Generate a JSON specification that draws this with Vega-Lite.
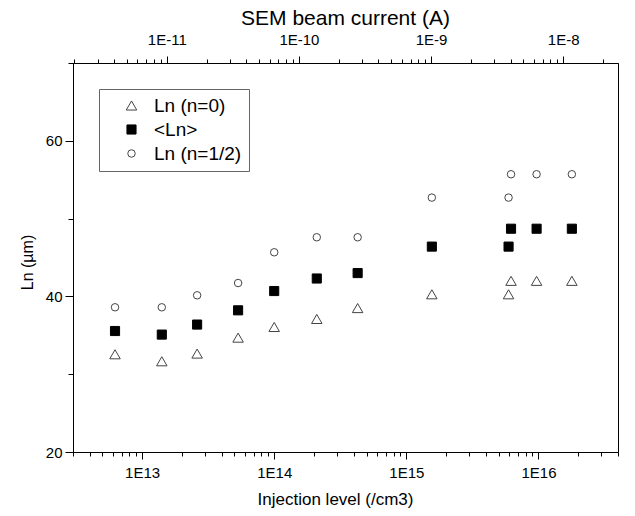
{
  "$schema": "https://vega.github.io/schema/vega-lite/v6.json",
  "width": 545,
  "height": 389,
  "autosize": {"type": "none"},
  "padding": {"left": 73, "top": 63, "right": 17, "bottom": 64},
  "background": "white",
  "config": {
    "font": "Liberation Sans",
    "view": {"stroke": "black", "strokeWidth": 1},
    "axis": {
      "grid": false,
      "domainColor": "black",
      "tickColor": "black",
      "labelColor": "black",
      "titleColor": "black",
      "labelFont": "Liberation Sans",
      "titleFont": "Liberation Sans",
      "titleFontWeight": "normal",
      "labelOverlap": false,
      "labelFlush": false,
      "labelBound": false
    },
    "legend": {
      "title": null,
      "orient": "none",
      "legendX": 26,
      "legendY": 26,
      "strokeColor": "#666666",
      "fillColor": "white",
      "padding": 7,
      "symbolOffset": 16,
      "labelOffset": 13,
      "labelFontSize": 19,
      "labelFont": "Liberation Sans",
      "labelColor": "black",
      "rowPadding": 4,
      "symbolStrokeWidth": 1
    }
  },
  "layer": [
    {
      "data": {
        "values": [
          {"inj": 6.24e12, "ln": 32.56, "series": "Ln (n=0)"},
          {"inj": 1.41e13, "ln": 31.66, "series": "Ln (n=0)"},
          {"inj": 2.61e13, "ln": 32.65, "series": "Ln (n=0)"},
          {"inj": 5.33e13, "ln": 34.7, "series": "Ln (n=0)"},
          {"inj": 1.0e14, "ln": 36.07, "series": "Ln (n=0)"},
          {"inj": 2.1e14, "ln": 37.1, "series": "Ln (n=0)"},
          {"inj": 4.28e14, "ln": 38.5, "series": "Ln (n=0)"},
          {"inj": 1.56e15, "ln": 40.27, "series": "Ln (n=0)"},
          {"inj": 5.94e15, "ln": 40.27, "series": "Ln (n=0)"},
          {"inj": 6.2e15, "ln": 42.0, "series": "Ln (n=0)"},
          {"inj": 9.68e15, "ln": 42.0, "series": "Ln (n=0)"},
          {"inj": 1.79e16, "ln": 42.0, "series": "Ln (n=0)"},
          {"inj": 6.24e12, "ln": 35.55, "series": "<Ln>"},
          {"inj": 1.41e13, "ln": 35.09, "series": "<Ln>"},
          {"inj": 2.61e13, "ln": 36.38, "series": "<Ln>"},
          {"inj": 5.33e13, "ln": 38.21, "series": "<Ln>"},
          {"inj": 1.0e14, "ln": 40.69, "series": "<Ln>"},
          {"inj": 2.1e14, "ln": 42.3, "series": "<Ln>"},
          {"inj": 4.28e14, "ln": 43.0, "series": "<Ln>"},
          {"inj": 1.56e15, "ln": 46.4, "series": "<Ln>"},
          {"inj": 5.94e15, "ln": 46.4, "series": "<Ln>"},
          {"inj": 6.2e15, "ln": 48.7, "series": "<Ln>"},
          {"inj": 9.68e15, "ln": 48.7, "series": "<Ln>"},
          {"inj": 1.79e16, "ln": 48.7, "series": "<Ln>"},
          {"inj": 6.24e12, "ln": 38.6, "series": "Ln (n=1/2)"},
          {"inj": 1.41e13, "ln": 38.6, "series": "Ln (n=1/2)"},
          {"inj": 2.61e13, "ln": 40.14, "series": "Ln (n=1/2)"},
          {"inj": 5.33e13, "ln": 41.72, "series": "Ln (n=1/2)"},
          {"inj": 1.0e14, "ln": 45.67, "series": "Ln (n=1/2)"},
          {"inj": 2.1e14, "ln": 47.6, "series": "Ln (n=1/2)"},
          {"inj": 4.28e14, "ln": 47.6, "series": "Ln (n=1/2)"},
          {"inj": 1.56e15, "ln": 52.7, "series": "Ln (n=1/2)"},
          {"inj": 5.94e15, "ln": 52.7, "series": "Ln (n=1/2)"},
          {"inj": 6.2e15, "ln": 55.7, "series": "Ln (n=1/2)"},
          {"inj": 9.68e15, "ln": 55.7, "series": "Ln (n=1/2)"},
          {"inj": 1.79e16, "ln": 55.7, "series": "Ln (n=1/2)"}
        ]
      },
      "mark": {"type": "point", "filled": true, "opacity": 1, "strokeWidth": 1},
      "encoding": {
        "x": {
          "field": "inj",
          "type": "quantitative",
          "scale": {"type": "log", "domain": [3e12, 4e16], "nice": false},
          "axis": {
            "orient": "bottom",
            "values": [3e12, 4e12, 5e12, 6e12, 7e12, 8e12, 9e12, 1e13, 2e13, 3e13, 4e13, 5e13, 6e13, 7e13, 8e13, 9e13, 1e14, 2e14, 3e14, 4e14, 5e14, 6e14, 7e14, 8e14, 9e14, 1e15, 2e15, 3e15, 4e15, 5e15, 6e15, 7e15, 8e15, 9e15, 1e16, 2e16, 3e16, 4e16],
            "labelExpr": "abs(log(datum.value)/LN10 - round(log(datum.value)/LN10)) < 0.0001 ? '1E' + round(log(datum.value)/LN10) : ''",
            "tickSize": {"condition": {"test": "abs(log(datum.value)/LN10 - round(log(datum.value)/LN10)) < 0.0001", "value": 7}, "value": 4},
            "labelFontSize": 15,
            "labelBaseline": "alphabetic",
            "labelPadding": 18,
            "title": "Injection level (/cm3)",
            "titleFontSize": 17,
            "titleX": 262,
            "titleY": 52,
            "titleAlign": "center",
            "titleBaseline": "alphabetic"
          }
        },
        "y": {
          "field": "ln",
          "type": "quantitative",
          "scale": {"domain": [20, 70], "nice": false, "zero": false},
          "axis": {
            "values": [20, 30, 40, 50, 60, 70],
            "labelExpr": "datum.value % 20 == 0 ? datum.label : ''",
            "tickSize": {"condition": {"test": "datum.value % 20 == 0", "value": 8}, "value": 5},
            "labelFontSize": 15,
            "labelPadding": 3,
            "title": "Ln (µm)",
            "titleFontSize": 16,
            "titleAngle": -90,
            "titleX": -41,
            "titleY": 199,
            "titleAlign": "center",
            "titleBaseline": "alphabetic"
          }
        },
        "shape": {
          "field": "series",
          "type": "nominal",
          "scale": {"domain": ["Ln (n=0)", "<Ln>", "Ln (n=1/2)"], "range": ["triangle-up", "square", "circle"]}
        },
        "size": {
          "field": "series",
          "type": "nominal",
          "scale": {"domain": ["Ln (n=0)", "<Ln>", "Ln (n=1/2)"], "range": [110, 56, 66]}
        },
        "fill": {
          "field": "series",
          "type": "nominal",
          "scale": {"domain": ["Ln (n=0)", "<Ln>", "Ln (n=1/2)"], "range": ["white", "black", "white"]}
        },
        "stroke": {
          "field": "series",
          "type": "nominal",
          "scale": {"domain": ["Ln (n=0)", "<Ln>", "Ln (n=1/2)"], "range": ["#444444", "black", "#444444"]}
        }
      }
    },
    {
      "data": {"values": [{"cur": 1.95e-12}, {"cur": 2.6e-8}]},
      "mark": {"type": "point", "opacity": 0},
      "encoding": {
        "x": {
          "field": "cur",
          "type": "quantitative",
          "scale": {"type": "log", "domain": [1.95e-12, 2.6e-8], "nice": false},
          "axis": {
            "orient": "top",
            "values": [2e-12, 3e-12, 4e-12, 5e-12, 6e-12, 7e-12, 8e-12, 9e-12, 1e-11, 2e-11, 3e-11, 4e-11, 5e-11, 6e-11, 7e-11, 8e-11, 9e-11, 1e-10, 2e-10, 3e-10, 4e-10, 5e-10, 6e-10, 7e-10, 8e-10, 9e-10, 1e-9, 2e-9, 3e-9, 4e-9, 5e-9, 6e-9, 7e-9, 8e-9, 9e-9, 1e-8, 2e-8],
            "labelExpr": "abs(log(datum.value)/LN10 - round(log(datum.value)/LN10)) < 0.0001 ? '1E' + round(log(datum.value)/LN10) : ''",
            "tickSize": {"condition": {"test": "abs(log(datum.value)/LN10 - round(log(datum.value)/LN10)) < 0.0001", "value": 7}, "value": 4},
            "labelFontSize": 15,
            "labelBaseline": "alphabetic",
            "labelPadding": 12,
            "title": "SEM beam current (A)",
            "titleFontSize": 21,
            "titleX": 272,
            "titleY": -39,
            "titleAlign": "center",
            "titleBaseline": "alphabetic"
          }
        }
      }
    }
  ],
  "resolve": {"scale": {"x": "independent"}, "axis": {"x": "independent"}}
}
